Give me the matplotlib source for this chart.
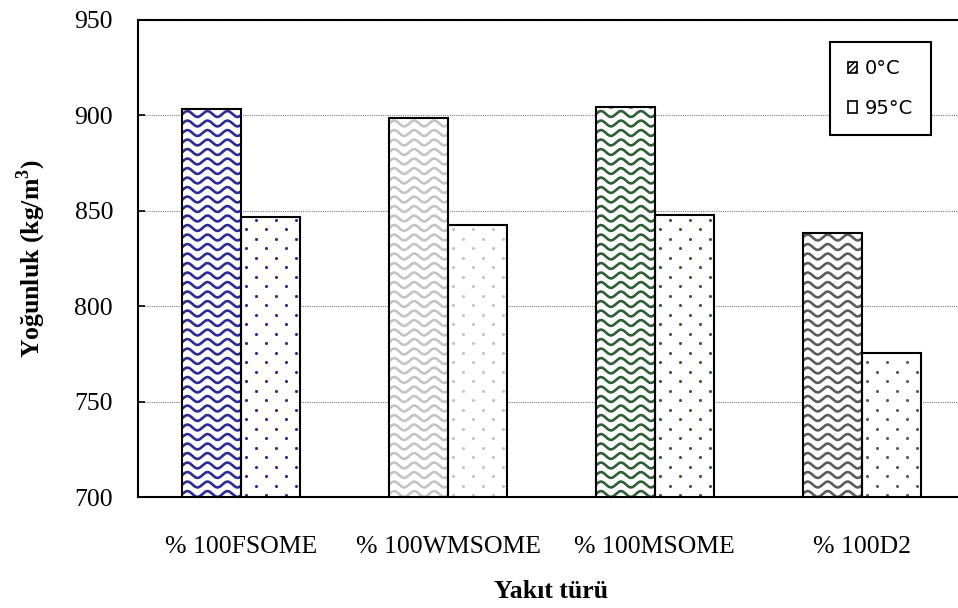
import numpy as np
import matplotlib
matplotlib.use('Agg')
import matplotlib.pyplot as plt
from matplotlib.lines import Line2D
from matplotlib.patches import Patch
from matplotlib.transforms import IdentityTransform

# data
categories = ['% 100FSOME', '% 100WMSOME', '% 100MSOME', '% 100D2']
dens_0C = [903.5, 898.5, 904.5, 838.5]
dens_95C = [847.0, 842.5, 848.0, 775.5]
series_labels = ['0°C', '95°C']
texture_colors = ['#2b2b9c', '#c4c4c4', '#2f5f35', '#5c5c5c']

plt.rcParams['font.family'] = ['Liberation Serif', 'DejaVu Serif']
plt.rcParams['mathtext.fontset'] = 'custom'
plt.rcParams['mathtext.rm'] = 'Liberation Serif'
plt.rcParams['mathtext.bf'] = 'Liberation Serif:bold'

W, H = 958, 608
fig = plt.figure(figsize=(W / 100, H / 100), dpi=100)
ax = fig.add_axes([138 / W, 1 - 497 / H, 827 / W, 477 / H])

x = np.arange(len(categories)) + 0.5
bw = 0.285
# white faces underneath, outlines on top of the textures
bars0 = ax.bar(x - bw / 2, dens_0C, bw, color='white', lw=0, zorder=2)
bars1 = ax.bar(x + bw / 2, dens_95C, bw, color='white', lw=0, zorder=2)
ax.bar(x - bw / 2, dens_0C, bw, fill=False, edgecolor='black', lw=1.5, zorder=3)
ax.bar(x + bw / 2, dens_95C, bw, fill=False, edgecolor='black', lw=1.5, zorder=3)

ax.set_xlim(0, len(categories))
ax.set_ylim(700, 950)
ax.set_yticks(np.arange(700, 951, 50))
ax.set_xticks(x)
ax.set_xticklabels(categories)
ax.tick_params(axis='x', length=0, pad=28, labelsize=18.5)
ax.tick_params(axis='y', direction='in', length=5, width=1.2, pad=18, labelsize=18.5)
ax.yaxis.grid(True, color='#7a7a7a', lw=0.8, ls=(0, (1, 1)), zorder=0)
ax.set_axisbelow(True)
for s in ['left', 'bottom', 'top']:
    ax.spines[s].set_linewidth(1.5)
    ax.spines[s].set_zorder(4)
ax.spines['right'].set_visible(False)

ax.set_ylabel('Yoğunluk (kg/m$^\\mathbf{3}$)', fontsize=18.5, fontweight='bold', labelpad=19)
ax.set_xlabel('Yakıt türü', fontsize=18.5, fontweight='bold', labelpad=16)

# textures: waves for 0°C, staggered dots for 95°C, drawn in pixels and clipped to each bar
fig.canvas.draw()
axbb = ax.get_window_extent()
for bar, c in zip(bars0, texture_colors):
    bb = bar.get_window_extent()
    y0 = max(bb.y0, axbb.y0)
    xs = np.linspace(bb.x0 - 2, bb.x1 + 2, 200)
    yy = y0 + 3
    while yy < bb.y1 + 6:
        ln = Line2D(xs, yy + 2.9 * np.sin(2 * np.pi * (xs - bb.x0) / 20.0),
                    color=c, lw=1.9, transform=IdentityTransform(), zorder=2.5)
        ax.add_line(ln)
        ln.set_clip_box(ax.bbox)
        ln.set_clip_path(bar)
        yy += 9.5
for bar, c in zip(bars1, texture_colors):
    bb = bar.get_window_extent()
    y0 = max(bb.y0, axbb.y0)
    px, py = [], []
    row = 0
    yy = y0 + 2
    while yy < bb.y1:
        off = 5 if row % 2 == 0 else 15
        xx = bb.x0 + off
        while xx < bb.x1:
            px.append(xx)
            py.append(yy)
            xx += 20
        yy += 9.5
        row += 1
    sc = ax.scatter(px, py, s=5, color=c, lw=0, transform=IdentityTransform(), zorder=2.5)
    sc.set_clip_box(ax.bbox)
    sc.set_clip_path(bar)

handles = [Patch(facecolor='white', edgecolor='black', hatch='//////', lw=1.2),
           Patch(facecolor='white', edgecolor='black', lw=1.2)]
leg = ax.legend(handles, series_labels, loc='upper right',
                bbox_to_anchor=(931 / W, 1 - 42 / H), bbox_transform=fig.transFigure,
                borderaxespad=0, fancybox=False, framealpha=1, edgecolor='black',
                handlelength=0.5, handleheight=0.5, handletextpad=0.4,
                labelspacing=1.05, borderpad=0.9,
                prop={'family': 'DejaVu Sans', 'size': 14})
leg.get_frame().set_linewidth(1.5)
leg.set_zorder(5)

fig.savefig('out.png', dpi=100)
